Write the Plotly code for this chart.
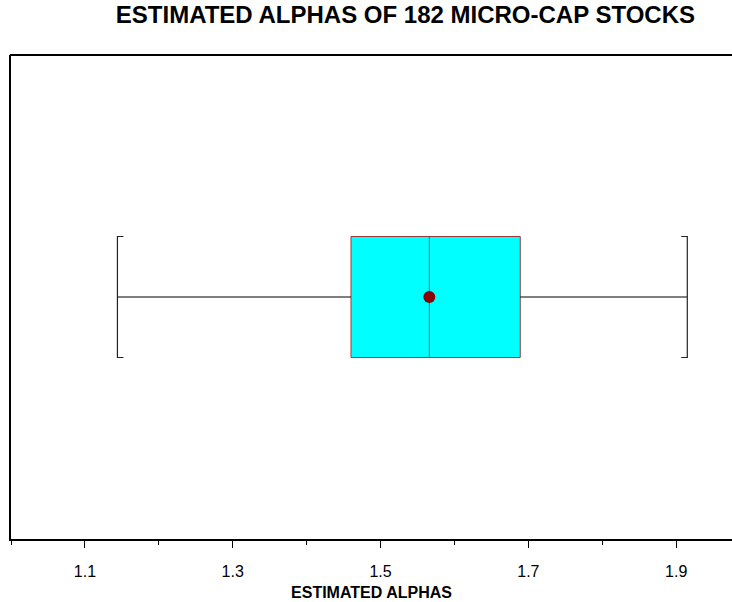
import plotly.graph_objects as go

# Summary statistics of the estimated alphas
n_stocks = 182
whisker_low = 1.144
q1 = 1.460
median = 1.566
q3 = 1.689
whisker_high = 1.915
mean = 1.566

tick_values = [1.1, 1.3, 1.5, 1.7, 1.9]
tick_labels = ["1.1", "1.3", "1.5", "1.7", "1.9"]

# Vertical placement of the box on a unit y scale
y_mid = 0.5
half_h = 0.125
y_lo, y_hi = y_mid - half_h, y_mid + half_h
stub = 0.0082  # length of the small bracket ends on each whisker cap

BOX_EDGE = "#a03a3a"
fig = go.Figure()

# Box body (Q1..Q3)
fig.add_trace(go.Scatter(
    x=[q1, q3, q3, q1, q1], y=[y_lo, y_lo, y_hi, y_hi, y_lo],
    mode="lines", fill="toself", fillcolor="#00ffff",
    line=dict(color=BOX_EDGE, width=1), hoverinfo="skip"))

# Median line
fig.add_trace(go.Scatter(
    x=[median, median], y=[y_lo, y_hi], mode="lines",
    line=dict(color="#4a6a6a", width=1), hoverinfo="skip"))

# Whisker stems
fig.add_trace(go.Scatter(
    x=[whisker_low, q1, None, q3, whisker_high],
    y=[y_mid, y_mid, None, y_mid, y_mid], mode="lines",
    line=dict(color="black", width=1), hoverinfo="skip"))

# Whisker caps drawn as brackets
fig.add_trace(go.Scatter(
    x=[whisker_low + stub, whisker_low, whisker_low, whisker_low + stub, None,
       whisker_high - stub, whisker_high, whisker_high, whisker_high - stub],
    y=[y_hi, y_hi, y_lo, y_lo, None, y_hi, y_hi, y_lo, y_lo],
    mode="lines", line=dict(color="#222222", width=1.2), hoverinfo="skip"))

# Mean marker
fig.add_trace(go.Scatter(
    x=[mean], y=[y_mid], mode="markers",
    marker=dict(color="#8b0000", size=12), hoverinfo="skip"))

# Top border of the frame (open on the right side)
fig.add_shape(type="line", xref="paper", yref="paper",
              x0=-0.0015, x1=1.0, y0=1.0, y1=1.0,
              line=dict(color="black", width=2))

fig.update_layout(
    width=732, height=602,
    margin=dict(l=11, r=0, t=55, b=63),
    paper_bgcolor="white", plot_bgcolor="white",
    showlegend=False,
    font=dict(family="Liberation Sans, Arial, sans-serif", color="black"),
    title=dict(
        text=f"<b>ESTIMATED ALPHAS OF {n_stocks} MICRO-CAP STOCKS</b>",
        font=dict(size=24, color="black"),
        xref="container", x=695 / 732, xanchor="right",
        yref="container", y=1 - 15 / 602, yanchor="middle"),
    xaxis=dict(
        range=[1.0, 1.9755], showgrid=False, zeroline=False,
        showline=True, linecolor="black", linewidth=2, mirror=False,
        tickmode="array", tickvals=tick_values, ticktext=tick_labels,
        ticks="outside", ticklen=7, tickwidth=1, tickcolor="black",
        tickfont=dict(size=16), ticklabelstandoff=10,
        minor=dict(dtick=0.1, tick0=1.0, ticks="outside", ticklen=4,
                   tickwidth=1, tickcolor="black"),
        title=dict(text="<b>ESTIMATED ALPHAS</b>", font=dict(size=16), standoff=8),
    ),
    yaxis=dict(
        range=[0, 1], showgrid=False, zeroline=False,
        showline=True, linecolor="black", linewidth=2, mirror=False,
        showticklabels=False, ticks=""),
)

fig.write_html("out.html")
